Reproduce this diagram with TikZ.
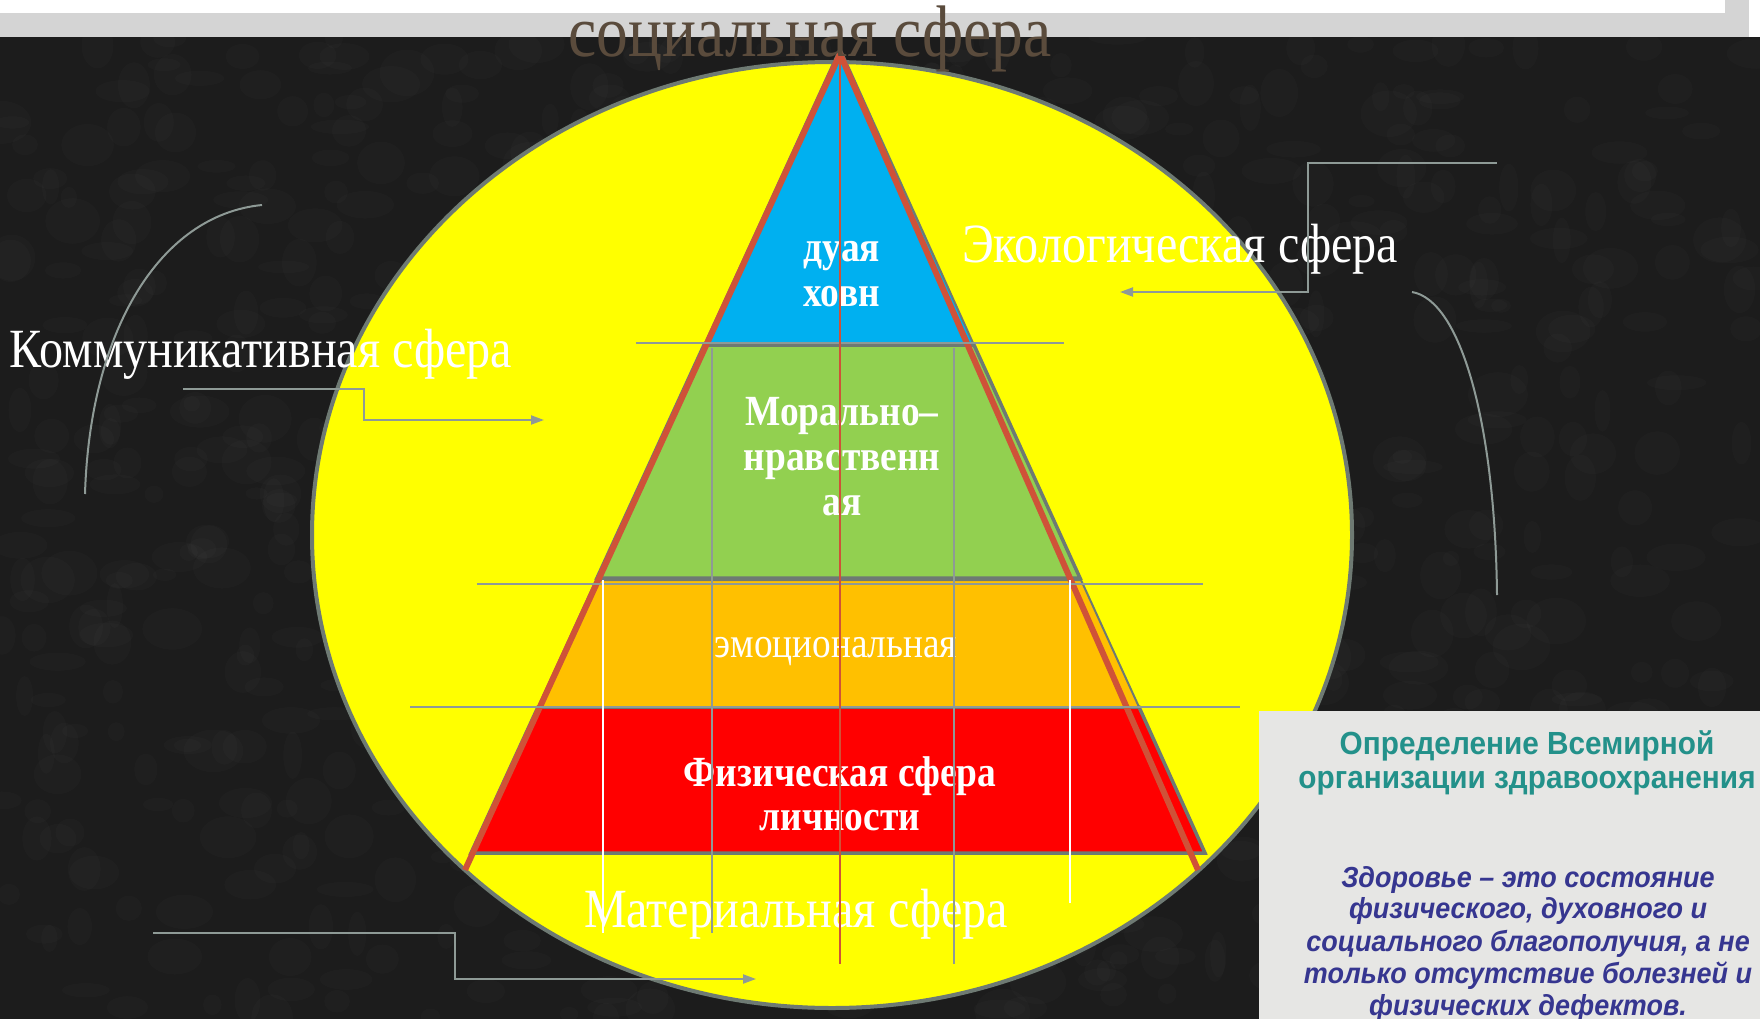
\documentclass[tikz,border=0pt]{standalone}
\usepackage{fontspec}
\setmainfont{Liberation Serif}[FakeStretch=0.87]
\newfontfamily\boxsans{Liberation Sans}[FakeStretch=0.93]
\usetikzlibrary{arrows.meta}
\definecolor{bgdark}{HTML}{1C1C1C}
\definecolor{bandgrey}{HTML}{D4D4D4}
\definecolor{outl}{HTML}{6E7A73}
\definecolor{thing}{HTML}{8E9A96}
\definecolor{pyryellow}{HTML}{FFFF00}
\definecolor{pyrblue}{HTML}{00B0F0}
\definecolor{pyrgreen}{HTML}{92D050}
\definecolor{pyrorange}{HTML}{FFC000}
\definecolor{pyrred}{HTML}{FF0000}
\definecolor{redline}{HTML}{CF5238}
\definecolor{titlebrown}{HTML}{5A4B3C}
\definecolor{boxgrey}{HTML}{E6E6E4}
\definecolor{teal}{HTML}{23918A}
\definecolor{navy}{HTML}{363690}
\tikzset{
  layer/.style={draw=outl, line width=3.5pt, line join=miter},
  thinline/.style={draw=thing, line width=2.2pt},
  whiteline/.style={draw=white, line width=2pt},
  conn/.style={draw=thing, line width=2pt},
  connarrow/.style={conn, -{Triangle[length=13pt,width=9pt]}},
  sidelabel/.style={text=white, inner sep=0pt, font=\fontsize{55.3}{60}\selectfont},
  boldlabel/.style={text=white, inner sep=0pt, font=\bfseries\fontsize{43}{45}\selectfont},
  whotitle/.style={text=teal, inner sep=0pt, font=\boxsans\bfseries\fontsize{32}{34}\selectfont},
  whotext/.style={text=navy, inner sep=0pt, font=\boxsans\bfseries\itshape\fontsize{29}{32}\selectfont}
}
\begin{document}
\begin{tikzpicture}[x=1pt,y=-1pt]
\useasboundingbox (0,0) rectangle (1760,1019);
% background
\fill[bgdark] (0,0) rectangle (1760,1019);
\pgfmathsetseed{7}
\foreach \i in {1,...,900} {
  \fill[white, opacity=0.015] (rnd*1760, 37+rnd*982) ellipse [x radius=8pt+rnd*22pt, y radius=6pt+rnd*18pt];
}
\fill[white] (0,0) rectangle (1760,37);
\fill[bandgrey] (0,13) rectangle (1749,37);
\fill[bandgrey] (1725,0) rectangle (1749,13);
% big ellipse
\filldraw[fill=pyryellow, draw=outl, line width=4pt] (832,535) ellipse [x radius=520pt, y radius=473pt];
% pyramid layers
\filldraw[layer, fill=pyrred] (538,707) -- (1139,707) -- (1205,853) -- (471,853) -- cycle;
\filldraw[layer, fill=pyrorange, line width=2pt] (596,580) -- (1081,580) -- (1139,707) -- (538,707) -- cycle;
\filldraw[layer, fill=pyrgreen] (704,345) -- (974,345) -- (1080,578) -- (597,578) -- cycle;
\filldraw[layer, fill=pyrblue, line width=2pt] (840,48) -- (973,343) -- (705,343) -- cycle;
% red outline triangle
\draw[redline, line width=6pt, line join=miter] (465,870) -- (840,54) -- (1198,870);
% texts
\node[anchor=base, inner sep=0pt, text=titlebrown, font=\fontsize{73}{80}\selectfont] (title) at (810,57) {социальная сфера};
\node[sidelabel, anchor=base] (komm) at (261,367) {Коммуникативная сфера};
\node[sidelabel, anchor=base] (eco) at (1180,262) {Экологическая сфера};
\node[sidelabel, anchor=base] (mat) at (796,927) {Материальная сфера};
\node[text=white, inner sep=0pt, anchor=base, font=\fontsize{42.8}{45}\selectfont] (emo) at (836,657) {эмоциональная};
\node[boldlabel, anchor=base] (duh1) at (842,261) {дуая};
\node[boldlabel, anchor=base] (duh2) at (842,306) {ховн};
\node[boldlabel, anchor=base] (mor1) at (842,425) {Морально–};
\node[boldlabel, anchor=base] (mor2) at (842,470) {нравственн};
\node[boldlabel, anchor=base] (mor3) at (842,515) {ая};
\node[boldlabel, anchor=base] (fiz1) at (840,786) {Физическая сфера};
\node[boldlabel, anchor=base] (fiz2) at (840,830) {личности};
% thin construction lines
\draw[thinline] (636,343) -- (1064,343);
\draw[thinline] (477,584) -- (1203,584);
\draw[thinline] (410,707) -- (1240,707);
\draw[thinline] (712,348) -- (712,933);
\draw[thinline] (954,348) -- (954,964);
\draw[whiteline] (603,580) -- (603,933);
\draw[whiteline] (1070,580) -- (1070,903);
\draw[redline, line width=2.2pt] (840,58) -- (840,964);
% connectors
\coordinate (kA) at (183,389); \coordinate (kB) at (544,420);
\draw[connarrow] (kA) -- (364,389) |- (kB);
\coordinate (eA) at (1497,163); \coordinate (eB) at (1120,292);
\draw[connarrow] (eA) -- (1308,163) |- (eB);
\coordinate (mA) at (153,933); \coordinate (mB) at (756,979);
\draw[connarrow] (mA) -- (455,933) |- (mB);
\coordinate (cL1) at (262,205); \coordinate (cL2) at (85,494);
\draw[conn] (cL1) .. controls (160,215) and (90,330) .. (cL2);
\coordinate (cR1) at (1412,292); \coordinate (cR2) at (1497,595);
\draw[conn] (cR1) .. controls (1460,300) and (1495,420) .. (cR2);
% WHO box
\fill[boxgrey] (1259,711) rectangle (1760,1019);
\node[whotitle, anchor=base] (who1) at (1527,754) {Определение Всемирной};
\node[whotitle, anchor=base] (who2) at (1527,788) {организации здравоохранения};
\node[whotext, anchor=base] (w1) at (1528,887) {Здоровье – это состояние};
\node[whotext, anchor=base] (w2) at (1528,918) {физического, духовного и};
\node[whotext, anchor=base] (w3) at (1528,951) {социального благополучия, а не};
\node[whotext, anchor=base] (w4) at (1528,983) {только отсутствие болезней и};
\node[whotext, anchor=base] (w5) at (1528,1015) {физических дефектов.};
\end{tikzpicture}
\end{document}
